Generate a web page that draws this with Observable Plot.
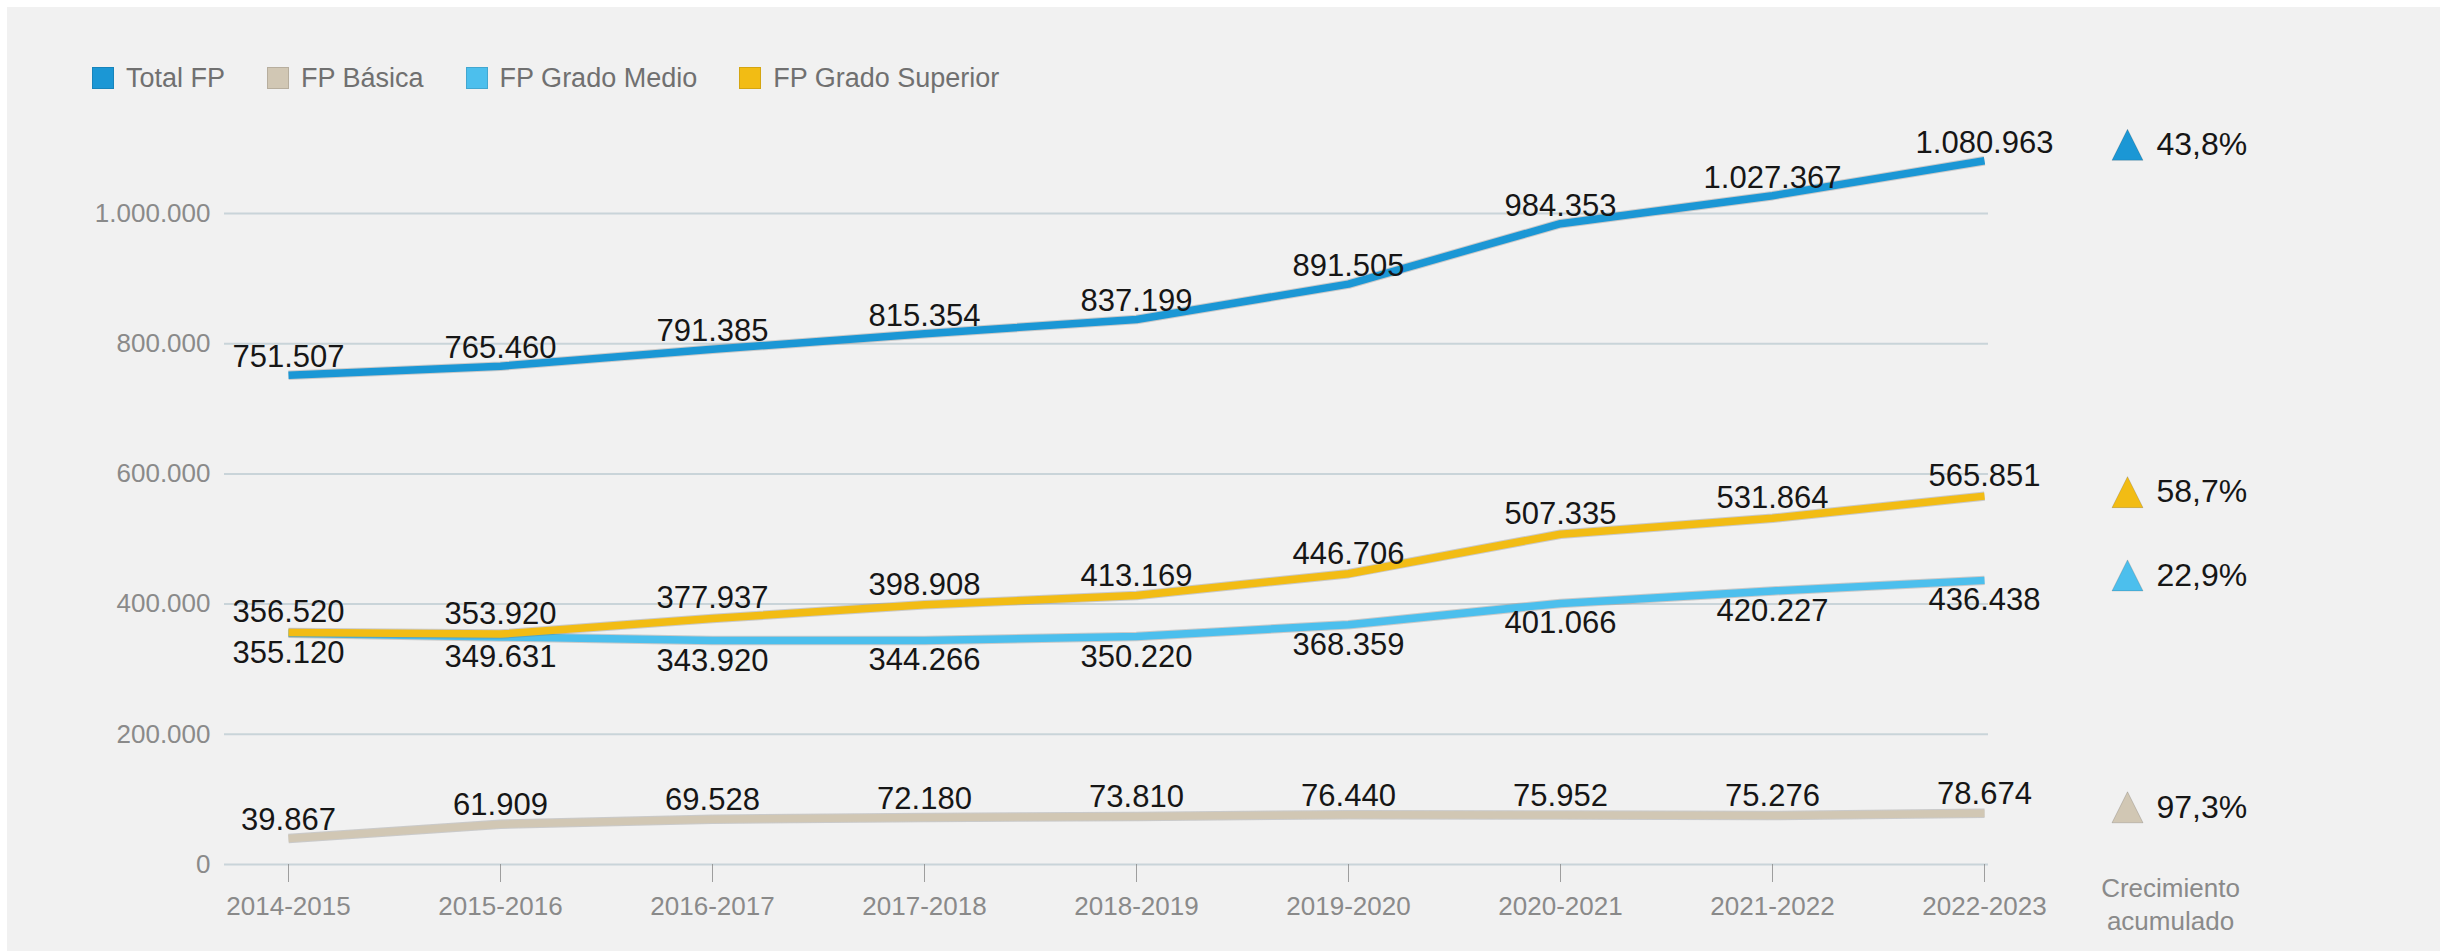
<!DOCTYPE html>
<html><head><meta charset="utf-8">
<script src="https://cdn.jsdelivr.net/npm/d3@7"></script>
<script src="https://cdn.jsdelivr.net/npm/@observablehq/plot@0.6"></script>
<style>
html,body{margin:0;padding:0;background:#fff;}
#panel{position:absolute;left:7px;top:7px;width:2433px;height:944px;background:#f1f1f1;font-family:"Liberation Sans",Arial,sans-serif;overflow:hidden;}
#legend{position:absolute;left:85px;top:60px;height:22px;display:flex;align-items:center;font-size:27px;color:#707070;white-space:nowrap;}
.item{display:flex;align-items:center;margin-right:42px;}
.sw{width:22px;height:22px;margin-right:12px;box-sizing:border-box;border:1px solid rgba(0,0,0,0.12);}
#chart{position:absolute;left:0;top:113px;}
</style></head><body>
<div id="panel"><div id="legend"></div><div id="chart"></div></div>
<script>
// ---- data ----
const years = ["2014-2015","2015-2016","2016-2017","2017-2018","2018-2019","2019-2020","2020-2021","2021-2022","2022-2023"];
const seriesNames = ["Total FP","FP Básica","FP Grado Medio","FP Grado Superior"];
const totalFP    = [751507, 765460, 791385, 815354, 837199, 891505, 984353, 1027367, 1080963];
const fpBasica   = [39867, 61909, 69528, 72180, 73810, 76440, 75952, 75276, 78674];
const fpMedio    = [355120, 349631, 343920, 344266, 350220, 368359, 401066, 420227, 436438];
const fpSuperior = [356520, 353920, 377937, 398908, 413169, 446706, 507335, 531864, 565851];
const growthPct  = [43.8, 97.3, 22.9, 58.7]; // Crecimiento acumulado, same order as seriesNames
const yTicks     = [0, 200000, 400000, 600000, 800000, 1000000];
const footLabel  = "Crecimiento\nacumulado";

// ---- styling ----
const colorRange = ["#1b97d5", "#d1c7b4", "#4cbfed", "#f2bc14"];
const locale = d3.formatLocale({decimal: ",", thousands: ".", grouping: [3], currency: ["", "€"]});
const fmt = locale.format(",");
const pct = locale.format(".1f");

const valuesByName = {"Total FP": totalFP, "FP Básica": fpBasica, "FP Grado Medio": fpMedio, "FP Grado Superior": fpSuperior};
const rows = seriesNames.flatMap(name => years.map((year, i) => ({series: name, year, value: valuesByName[name][i]})));
const annotations = seriesNames.map((name, k) => ({series: name, value: valuesByName[name][years.length - 1], growth: growthPct[k]}));

// legend
const legend = document.getElementById("legend");
seriesNames.forEach((name, k) => {
  const it = document.createElement("div"); it.className = "item";
  const sw = document.createElement("div"); sw.className = "sw"; sw.style.background = colorRange[k];
  const tx = document.createElement("span"); tx.textContent = name;
  it.appendChild(sw); it.appendChild(tx); legend.appendChild(it);
});

// label placement per series
const labelStyle = {
  "Total FP": {lineAnchor: "bottom", dy: -8, triDy: -16},
  "FP Grado Superior": {lineAnchor: "bottom", dy: -10, triDy: -4},
  "FP Grado Medio": {lineAnchor: "top", dy: 8, triDy: -5},
  "FP Básica": {lineAnchor: "bottom", dy: -9, triDy: -6}
};
const drawOrder = ["FP Básica", "FP Grado Medio", "FP Grado Superior", "Total FP"];

const triangle = {
  draw(ctx, size) {
    const h = Math.sqrt(size / Math.PI) * 2;
    ctx.moveTo(0, -h / 2);
    ctx.lineTo(h / 2, h / 2);
    ctx.lineTo(-h / 2, h / 2);
    ctx.closePath();
  }
};

const marks = [
  Plot.gridY(yTicks, {stroke: "#c9d4d9", strokeOpacity: 1, strokeWidth: 2}),
  Plot.axisY(yTicks, {tickFormat: fmt, tickSize: 0, tickPadding: 14, fontSize: 26, color: "#8a8a8a", label: null}),
  Plot.axisX({tickSize: 18, tickPadding: 14, fontSize: 26, color: "#8a8a8a", strokeOpacity: 0.8, label: null})
];
for (const name of drawOrder) {
  const data = rows.filter(d => d.series === name);
  marks.push(Plot.line(data, {x: "year", y: "value", stroke: "#666", strokeOpacity: 0.28, strokeWidth: 9.5, curve: "linear", strokeLinecap: "butt", strokeLinejoin: "round"}));
  marks.push(Plot.line(data, {x: "year", y: "value", stroke: "series", strokeWidth: 7.5, curve: "linear", strokeLinecap: "butt", strokeLinejoin: "round"}));
}
for (const name of drawOrder) {
  const data = rows.filter(d => d.series === name);
  const st = labelStyle[name];
  marks.push(Plot.text(data, {x: "year", y: "value", text: d => fmt(d.value), lineAnchor: st.lineAnchor, dy: st.dy, fontSize: 31, fill: "#161616"}));
  const ann = annotations.filter(d => d.series === name);
  marks.push(Plot.dot(ann, {y: "value", frameAnchor: "right", dx: 139, dy: st.triDy, r: 15.5, symbol: triangle, fill: "series", stroke: "rgba(0,0,0,0.15)", strokeWidth: 1}));
  marks.push(Plot.text(ann, {y: "value", frameAnchor: "right", dx: 168, dy: st.triDy, text: d => pct(d.growth) + "%", textAnchor: "start", lineAnchor: "middle", fontSize: 32, fill: "#161616"}));
}
marks.push(Plot.text([footLabel], {frameAnchor: "bottom-right", dx: 182, dy: 9, lineAnchor: "top", textAnchor: "middle", lineHeight: 1.27, fontSize: 26, fill: "#8a8a8a"}));

const chart = Plot.plot({
  width: 2433,
  height: 831,
  marginLeft: 217,
  marginRight: 452,
  marginTop: 0,
  marginBottom: 87,
  style: {background: "transparent", fontFamily: "'Liberation Sans', Arial, sans-serif", fontSize: "26px", overflow: "visible"},
  x: {type: "point", domain: years, range: [277, 1980], padding: 0},
  y: {domain: [0, 1000000], range: [744, 93]},
  color: {domain: seriesNames, range: colorRange},
  marks
});
document.getElementById("chart").appendChild(chart);
</script></body></html>
